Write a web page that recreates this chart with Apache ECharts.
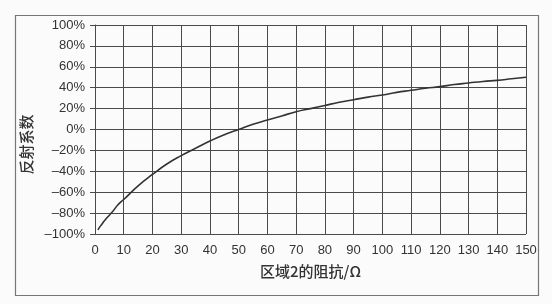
<!DOCTYPE html>
<html><head><meta charset="utf-8">
<script src="https://cdn.jsdelivr.net/npm/echarts@6/dist/echarts.min.js"></script>
<style>html,body{margin:0;padding:0;background:#fbfbfb}#c{width:552px;height:304px}</style>
</head><body><div id="c"></div>
<script>
// Impedance of region 2 (ohm)
const impedance = [1, 2, 4, 6, 8, 10, 15, 20, 25, 30, 35, 40, 45, 50, 55, 60, 65, 70, 75, 80, 85, 90, 95, 100, 105, 110, 115, 120, 125, 130, 135, 140, 145, 150];
// Reflection coefficient (%)
const reflection = [-96, -92, -85, -79, -72, -67, -54, -43, -33, -25, -18, -11, -5, 0, 5, 9, 13, 17, 20, 23, 26, 28.5, 31, 33, 35.5, 37.5, 39.5, 41, 43, 44.5, 46, 47, 48.5, 50];
const xTicks = {min: 0, max: 150, interval: 10};
const yTicks = {min: -100, max: 100, interval: 20};

const chart = echarts.init(document.getElementById('c'));
const gridColor = '#4a4a4a';
const labelFont = {color: '#333', fontSize: 13, fontFamily: 'Liberation Sans, Arial, sans-serif'};
chart.setOption({
  backgroundColor: '#fbfbfb',
  animation: false,
  graphic: [{type: 'rect', shape: {x: 15.5, y: 15.5, width: 523, height: 280}, style: {fill: 'none', stroke: '#777', lineWidth: 1.2}}],
  grid: {left: 95, right: 26, top: 25, bottom: 70},
  xAxis: {
    type: 'value', min: xTicks.min, max: xTicks.max, interval: xTicks.interval,
    name: '区域2的阻抗/Ω', nameLocation: 'middle', nameGap: 30,
    nameTextStyle: {color: '#333', fontSize: 15, fontWeight: 500, fontFamily: 'Noto Sans CJK SC'},
    axisLine: {show: true, lineStyle: {color: gridColor, width: 1}},
    axisTick: {show: true, length: 5, lineStyle: {color: gridColor}},
    axisLabel: Object.assign({margin: 10}, labelFont),
    splitLine: {show: true, lineStyle: {color: gridColor, width: 1}}
  },
  yAxis: {
    type: 'value', min: yTicks.min, max: yTicks.max, interval: yTicks.interval,
    name: '反射系数', nameLocation: 'middle', nameGap: 48, nameRotate: 90,
    nameTextStyle: {color: '#333', fontSize: 15, fontWeight: 500, fontFamily: 'Noto Sans CJK SC', padding: [0, 30, 0, 0]},
    axisLine: {show: true, lineStyle: {color: gridColor, width: 1}},
    axisTick: {show: true, length: 5, lineStyle: {color: gridColor}},
    axisLabel: Object.assign({margin: 10, formatter: v => (v < 0 ? '\u2013' + (-v) : v) + '%'}, labelFont),
    splitLine: {show: true, lineStyle: {color: gridColor, width: 1}}
  },
  series: [{
    type: 'line', smooth: true, showSymbol: false,
    data: impedance.map((x, i) => [x, reflection[i]]),
    lineStyle: {color: '#333', width: 1.6}
  }]
});
</script></body></html>
